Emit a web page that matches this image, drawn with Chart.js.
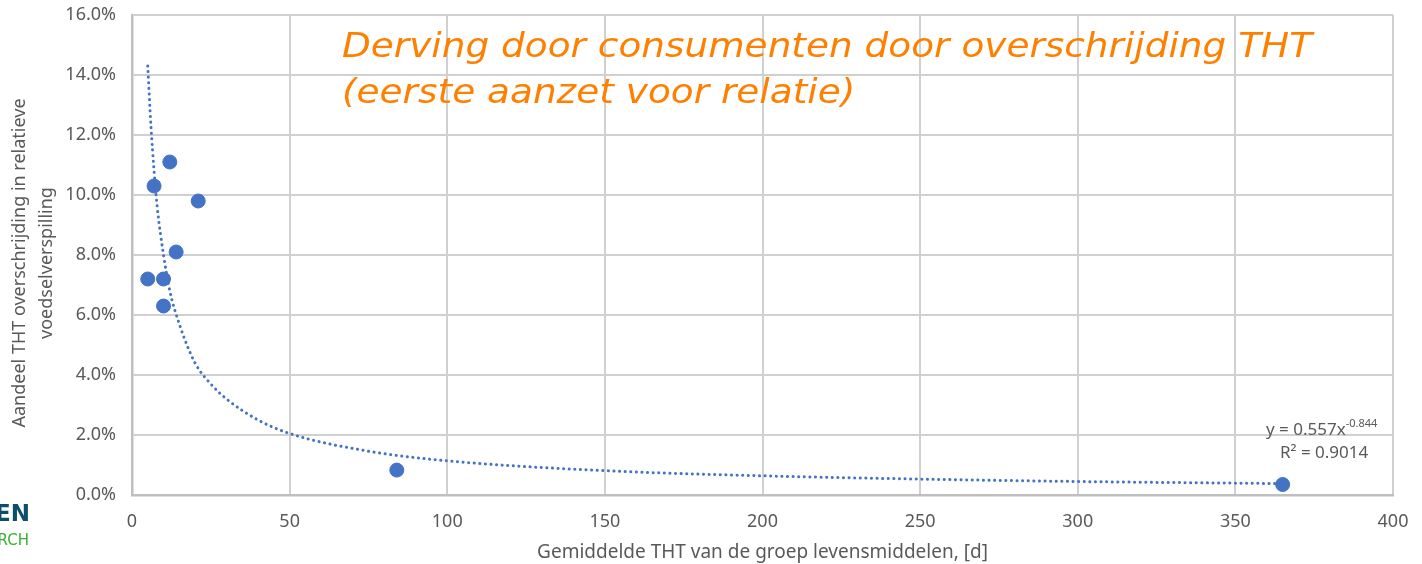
<!DOCTYPE html>
<html>
<head>
<meta charset="utf-8">
<script src="https://cdn.jsdelivr.net/npm/chart.js@4/dist/chart.umd.min.js"></script>
<style>
  html, body { margin: 0; padding: 0; background: #fff; }
  canvas { display: block; }
</style>
</head>
<body>
<canvas id="thtChart" width="1422" height="564"></canvas>
<script>
// ====== DATA ======
const thtDays = [5, 7, 12, 10, 10, 14, 21, 84, 365];
const thtShare = [7.2, 10.3, 11.1, 7.2, 6.3, 8.1, 9.8, 0.83, 0.35];

// machtstrendlijn
const trendDays = [5, 6, 7, 8, 10, 12, 15, 20, 25, 30, 40, 50, 75, 100, 150, 200, 250, 300, 365];
const trendShare = [14.3, 12.3, 10.8, 9.6, 8.0, 6.8, 5.7, 4.4, 3.7, 3.2, 2.5, 2.05, 1.46, 1.14, 0.81, 0.64, 0.53, 0.45, 0.38];

const xTicks = [0, 50, 100, 150, 200, 250, 300, 350, 400];
const yTicks = [0, 2, 4, 6, 8, 10, 12, 14, 16];

const blue = '#4472C4';
const grey = '#595959';

// tekst op een vaste breedte tekenen
function fitText(ctx, text, x, y, width) {
    const w = ctx.measureText(text).width;
    ctx.save();
    ctx.translate(x, y);
    ctx.scale(width / w, 1);
    ctx.fillText(text, 0, 0);
    ctx.restore();
}

// ====== EXTRA TEKST (titel, as-titel, vergelijking, logo) ======
const overlayText = {
    id: 'overlayText',
    afterDraw(chart) {
        const ctx = chart.ctx;
        const area = chart.chartArea;
        ctx.save();

        // titel in oranje
        ctx.fillStyle = '#FF8000';
        ctx.font = 'italic 34px "DejaVu Sans"';
        ctx.textAlign = 'left';
        ctx.textBaseline = 'alphabetic';
        const line1 = 'Derving door consumenten door overschrijding THT';
        const scaleX = 970 / ctx.measureText(line1).width;
        fitText(ctx, line1, 342, 57, 970);
        const line2 = '(eerste aanzet voor relatie)';
        fitText(ctx, line2, 342, 103, ctx.measureText(line2).width * scaleX);

        // y-as titel
        ctx.fillStyle = grey;
        ctx.font = '18px "Noto Sans"';
        ctx.textAlign = 'center';
        ctx.textBaseline = 'middle';
        const cy = (area.top + area.bottom) / 2 + 8;
        ctx.translate(20, cy);
        ctx.rotate(-Math.PI / 2);
        ctx.fillText('Aandeel THT overschrijding in relatieve', 0, 0);
        ctx.fillText('voedselverspilling', 0, 27);
        ctx.setTransform(1, 0, 0, 1, 0, 0);

        // vergelijking trendlijn
        ctx.textAlign = 'left';
        ctx.textBaseline = 'alphabetic';
        ctx.font = '17px "Noto Sans"';
        const eq = 'y = 0.557x';
        ctx.fillText(eq, 1266, 435);
        const w = ctx.measureText(eq).width;
        ctx.font = '11px "Noto Sans"';
        ctx.fillText('-0.844', 1266 + w, 427);
        ctx.font = '17px "Noto Sans"';
        ctx.fillText('R² = 0.9014', 1280, 458);

        // afgesneden logo linksonder
        ctx.textAlign = 'right';
        ctx.font = 'bold 23px "DejaVu Sans"';
        ctx.fillStyle = '#0B4F6C';
        ctx.fillText('EN', 30, 521);
        ctx.font = '15px "DejaVu Sans"';
        ctx.fillStyle = '#34B233';
        ctx.fillText('RCH', 29, 545);

        ctx.restore();
    }
};

const ctx = document.getElementById('thtChart');

new Chart(ctx, {
    type: 'scatter',
    data: {
        datasets: [
            {
                type: 'line',
                label: 'Trend',
                data: trendDays.map((d, i) => ({ x: d, y: trendShare[i] })),
                borderColor: blue,
                borderWidth: 3,
                borderDash: [0.1, 5.5],
                borderCapStyle: 'round',
                pointRadius: 0,
                fill: false,
                cubicInterpolationMode: 'monotone',
                order: 0
            },
            {
                label: 'THT',
                data: thtDays.map((d, i) => ({ x: d, y: thtShare[i] })),
                backgroundColor: blue,
                borderColor: blue,
                pointRadius: 7,
                order: 1
            }
        ]
    },
    options: {
        responsive: false,
        animation: false,
        layout: {
            padding: { left: 0, right: 29, top: 15, bottom: 0 }
        },
        plugins: {
            legend: { display: false },
            tooltip: { enabled: false }
        },
        scales: {
            x: {
                type: 'linear',
                min: 0,
                max: 400,
                afterBuildTicks: (scale) => { scale.ticks = xTicks.map(v => ({ value: v })); },
                afterFit: (scale) => {
                    scale.height = 69;
                    scale.paddingLeft = 0;
                    scale.paddingRight = 0;
                },
                grid: {
                    color: '#D0D0D0',
                    lineWidth: 2,
                    drawTicks: false
                },
                border: { color: '#BFBFBF', width: 2.5 },
                ticks: {
                    color: grey,
                    font: { family: 'Noto Sans', size: 18 },
                    padding: 16
                },
                title: {
                    display: true,
                    text: 'Gemiddelde THT van de groep levensmiddelen, [d]',
                    color: grey,
                    font: { family: 'Noto Sans', size: 19 },
                    padding: { top: 2, bottom: 0 }
                }
            },
            y: {
                min: 0,
                max: 16,
                afterBuildTicks: (scale) => { scale.ticks = yTicks.map(v => ({ value: v })); },
                afterFit: (scale) => {
                    scale.width = 132;
                    scale.paddingTop = 0;
                    scale.paddingBottom = 0;
                },
                grid: {
                    color: '#D0D0D0',
                    lineWidth: 2,
                    drawTicks: false
                },
                border: { color: '#BFBFBF', width: 2.5 },
                ticks: {
                    color: grey,
                    font: { family: 'Noto Sans', size: 18 },
                    padding: 16,
                    callback: function (value) {
                        return value.toFixed(1) + '%';
                    }
                }
            }
        }
    },
    plugins: [overlayText]
});
</script>
</body>
</html>
